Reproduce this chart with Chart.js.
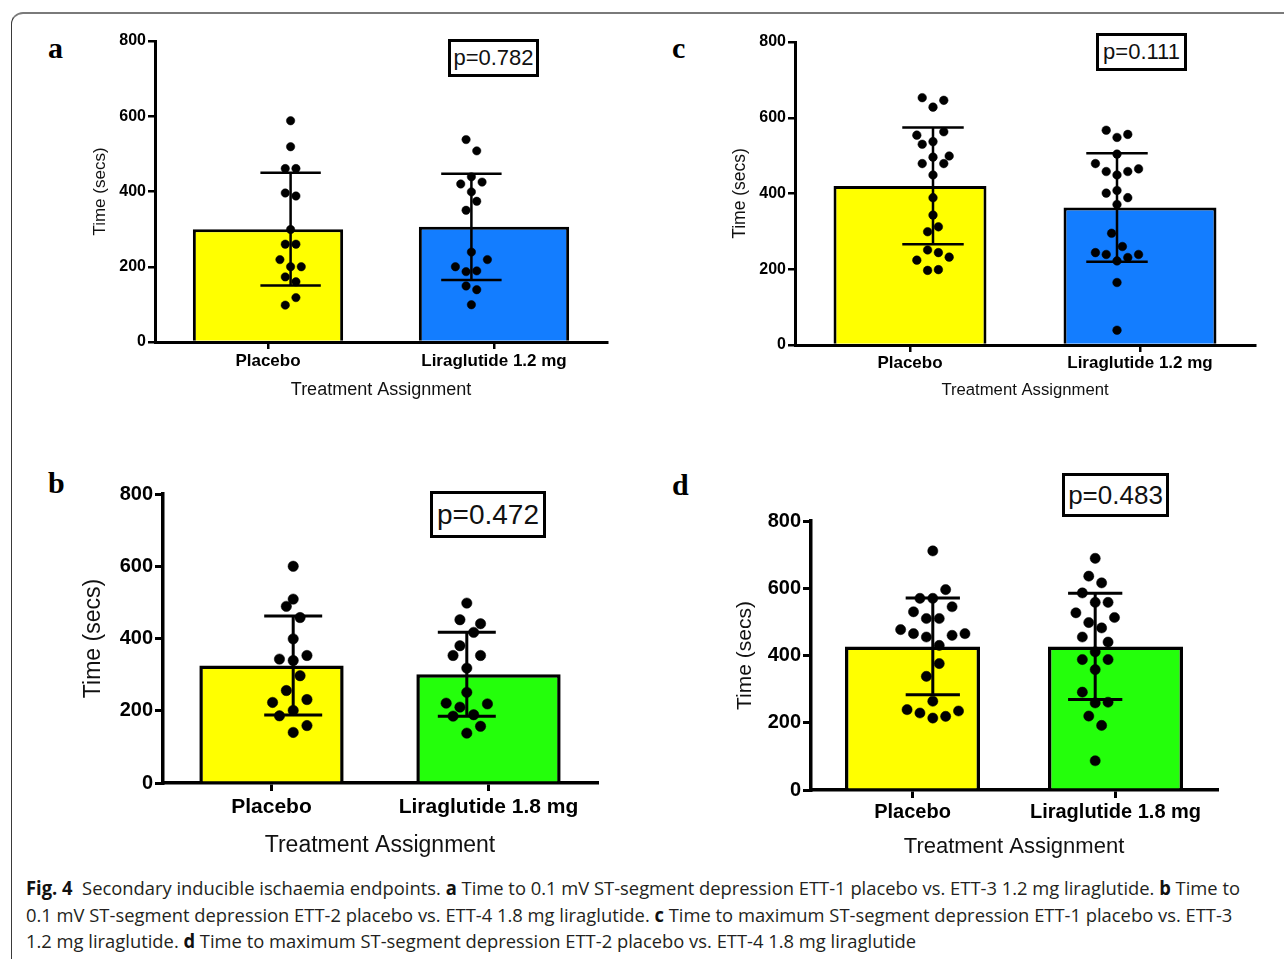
<!DOCTYPE html>
<html><head><meta charset="utf-8">
<script src="https://cdn.jsdelivr.net/npm/chart.js@4.4.1/dist/chart.umd.min.js"></script>
<style>
html,body{margin:0;padding:0;background:#fff;}
body{width:1284px;height:959px;position:relative;overflow:hidden;font-family:"Liberation Sans",Arial,sans-serif;}
.frame{position:absolute;left:11px;top:12px;width:1320px;height:1000px;border-top:2px solid #7a7a7a;border-left:1.5px solid #3a3a3a;border-top-left-radius:12px;box-sizing:border-box;}
canvas{position:absolute;}
.lbl{position:absolute;font-family:"Liberation Serif","Times New Roman",serif;font-weight:bold;font-size:30px;line-height:30px;color:#000;}
.pbox{position:absolute;box-sizing:border-box;border:3px solid #000;display:flex;align-items:center;justify-content:center;font-family:"Liberation Sans",Arial,sans-serif;color:#111;background:#fff;}
.cap{position:absolute;left:26px;white-space:nowrap;font-family:"Open Sans",sans-serif;font-size:19px;color:#231f20;transform-origin:0 50%;line-height:26px;}
.cap b{font-weight:700;color:#111;}
</style></head>
<body>
<div class="frame"></div>
<canvas id="ca"></canvas>
<canvas id="cb"></canvas>
<canvas id="cc"></canvas>
<canvas id="cd"></canvas>
<div class="lbl" style="left:48px;top:33px;">a</div>
<div class="lbl" style="left:48px;top:468px;">b</div>
<div class="lbl" style="left:672px;top:33px;">c</div>
<div class="lbl" style="left:672px;top:470px;">d</div>
<div class="pbox" style="left:448px;top:39px;width:91px;height:38px;font-size:22px;">p=0.782</div>
<div class="pbox" style="left:1096px;top:33px;width:91px;height:38px;font-size:22px;">p=0.111</div>
<div class="pbox" style="left:430px;top:491px;width:116px;height:47px;font-size:28px;border-width:3.5px;">p=0.472</div>
<div class="pbox" style="left:1062px;top:473px;width:107px;height:44px;font-size:26px;border-width:3.5px;">p=0.483</div>
<div class="cap" id="cap1" style="top:875px;"><b>Fig. 4</b>&nbsp; Secondary inducible ischaemia endpoints. <b>a</b> Time to 0.1 mV ST-segment depression ETT-1 placebo vs. ETT-3 1.2 mg liraglutide. <b>b</b> Time to</div>
<div class="cap" id="cap2" style="top:901.5px;">0.1 mV ST-segment depression ETT-2 placebo vs. ETT-4 1.8 mg liraglutide. <b>c</b> Time to maximum ST-segment depression ETT-1 placebo vs. ETT-3</div>
<div class="cap" id="cap3" style="top:928px;">1.2 mg liraglutide. <b>d</b> Time to maximum ST-segment depression ETT-2 placebo vs. ETT-4 1.8 mg liraglutide</div>
<script>
// ---------- data ----------
const categories12 = ['Placebo', 'Liraglutide 1.2 mg'];
const categories18 = ['Placebo', 'Liraglutide 1.8 mg'];
const yMin = 0, yMax = 800, yStep = 200;

// panel a
const aMean = [300, 306];
const aSD = [150, 141];
const aPlacebo = [588,519,461,461,396,388,299,260,260,219,200,200,173,160,118,98];
const aPlaceboLane = [0,0,-1,1,-1,1,0,-1,1,-2,0,2,-1,1,1,-1];
const aLira = [538,508,439,420,425,399,374,350,239,219,200,187,189,149,139,99];
const aLiraLane = [-1,1,0,-2,2,0,1,-1,0,3,-3,-1,1,-1,1,0];

// panel b
const bMean = [325, 301];
const bSD = [137, 116];
const bPlacebo = [600,509,489,458,399,343,339,353,297,256,223,231,201,186,159,140];
const bPlaceboLane = [0,0,-1,1,0,-2,0,2,1,-1,-3,2,0,-2,2,0];
const bLira = [498,452,441,417,380,353,353,318,251,221,219,210,185,189,157,138];
const bLiraLane = [0,-1,2,1,-1,-2,2,0,0,-3,3,-1,-2,1,2,0];

// panel c
const cMean = [420, 363];
const cSD = [154, 143];
const cPlacebo = [653,646,628,554,563,537,530,496,499,479,479,449,389,343,299,312,251,244,224,232,197,199];
const cPlaceboLane = [-2,2,0,-3,2,0,-2,0,3,-2,2,0,0,0,-1,1,-1,1,-3,3,-1,1];
const cLira = [567,548,556,504,479,458,449,458,465,408,401,389,371,295,260,244,239,222,231,239,165,39];
const cLiraLane = [-2,0,2,0,-4,-2,0,2,4,0,-2,2,0,-1,1,-4,-2,0,2,4,0,0];

// panel d
const dMean = [427, 427];
const dSD = [144, 158];
const dPlacebo = [711,596,570,570,545,530,510,510,477,465,465,460,455,430,376,338,264,239,229,214,219,235];
const dPlaceboLane = [0,2,-2,0,3,-3,-1,1,-5,5,-3,3,-1,1,1,-1,0,-4,-2,0,2,4];
const dLira = [689,636,616,586,558,558,527,513,498,482,455,440,411,388,388,358,291,259,261,220,192,87];
const dLiraLane = [0,-1,1,-2,0,2,-3,3,-1,1,-2,2,0,-2,2,0,-2,0,2,-1,1,0];

// ---------- styles ----------
const YELLOW = '#FFFF00', BLUE = '#137DFF', GREEN = '#24FF0B';
const FONT = "'Liberation Sans', Arial, sans-serif";

function swarm(values, lanes, cat, unit) {
  return values.map((v, i) => ({x: cat + lanes[i] * unit, y: v}));
}
function errPath(cat, mean, sd, half) {
  const hi = mean + sd, lo = mean - sd;
  return [
    {x: cat - half, y: hi}, {x: cat + half, y: hi}, {x: cat, y: null},
    {x: cat, y: hi}, {x: cat, y: lo}, {x: cat, y: null},
    {x: cat - half, y: lo}, {x: cat + half, y: lo}
  ];
}

function makePanel(id, s) {
  const cv = document.getElementById(id);
  cv.width = s.canvas.w; cv.height = s.canvas.h;
  cv.style.left = s.canvas.x + 'px'; cv.style.top = s.canvas.y + 'px';
  const a = s.area;
  const padTop = a.top - s.canvas.y;
  const padRight = s.canvas.x + s.canvas.w - a.right;
  const yW = a.left - s.canvas.x;
  const xH = s.canvas.y + s.canvas.h - a.bottom;
  const half = 0.167;
  const datasets = [
    {type: 'bar', data: s.mean, backgroundColor: s.colors, borderColor: '#000',
     borderWidth: s.barBorder, borderSkipped: 'start', barPercentage: 0.665,
     categoryPercentage: 1, grouped: false, order: 5, xAxisID: 'x', yAxisID: 'y'}
  ];
  [0, 1].forEach(i => datasets.push({
    type: 'scatter', data: errPath(i, s.mean[i], s.sd[i], half), showLine: true,
    spanGaps: false, pointRadius: 0, borderColor: '#000', borderWidth: s.errW,
    borderCapStyle: 'butt', fill: false, order: 3, xAxisID: 'x2', yAxisID: 'y'
  }));
  s.groups.forEach((g, i) => datasets.push({
    type: 'scatter', data: swarm(g.values, g.lanes, i, s.laneUnit),
    pointRadius: s.dotR, pointBackgroundColor: '#000', pointBorderColor: '#000',
    pointBorderWidth: 0.5, order: 1, xAxisID: 'x2', yAxisID: 'y'
  }));
  return new Chart(cv, {
    type: 'bar',
    data: {labels: s.cats, datasets},
    options: {
      responsive: false, animation: false, devicePixelRatio: 1,
      layout: {padding: {top: padTop, right: padRight, left: 0, bottom: 0}},
      plugins: {legend: {display: false}, tooltip: {enabled: false}},
      scales: {
        x: {
          type: 'category', offset: true, position: 'bottom',
          grid: {display: true, drawOnChartArea: false, drawTicks: true, offset: false,
                 tickLength: s.xTick, tickWidth: s.tickW, tickColor: '#000', color: '#000', lineWidth: s.tickW},
          border: {display: true, color: '#000', width: s.axisW},
          ticks: {color: '#000', font: {family: FONT, size: s.catFont, weight: 'bold'},
                  padding: s.xPad, maxRotation: 0, autoSkip: false},
          title: {display: true, text: 'Treatment Assignment', color: '#111',
                  font: {family: FONT, size: s.xTitleFont}, padding: {top: 0, bottom: s.xTitlePad}},
          afterFit: sc => { sc.height = xH; }
        },
        x2: {type: 'linear', min: -0.5, max: 1.5, display: false, position: 'bottom'},
        y: {
          type: 'linear', min: yMin, max: yMax, position: 'left',
          grid: {display: true, drawOnChartArea: false, drawTicks: true,
                 tickLength: s.yTick, tickWidth: s.tickW, tickColor: '#000', color: '#000', lineWidth: s.tickW},
          border: {display: true, color: '#000', width: s.axisW},
          ticks: {stepSize: yStep, color: '#000', font: {family: FONT, size: s.tickFont, weight: 'bold'}, padding: s.yPad},
          title: {display: true, text: 'Time (secs)', color: '#111',
                  font: {family: FONT, size: s.yTitleFont}, padding: {top: s.yTitlePad, bottom: 0}},
          afterFit: sc => { sc.width = yW; }
        }
      }
    }
  });
}

makePanel('ca', {
  canvas: {x: 70, y: 20, w: 560, h: 395}, area: {left: 155, top: 41, right: 607, bottom: 342},
  cats: categories12, mean: aMean, sd: aSD, colors: [YELLOW, BLUE],
  groups: [{values: aPlacebo, lanes: aPlaceboLane}, {values: aLira, lanes: aLiraLane}],
  laneUnit: 0.0295, dotR: 4.2, barBorder: 3, errW: 2.5, axisW: 3, tickW: 2.5,
  xTick: 7, yTick: 7, xPad: 2, yPad: 2, tickFont: 16, catFont: 17, xTitleFont: 18, yTitleFont: 17,
  xTitlePad: 14, yTitlePad: 20
});
makePanel('cc', {
  canvas: {x: 710, y: 20, w: 574, h: 395}, area: {left: 795, top: 42, right: 1255, bottom: 345},
  cats: categories12, mean: cMean, sd: cSD, colors: [YELLOW, BLUE],
  groups: [{values: cPlacebo, lanes: cPlaceboLane}, {values: cLira, lanes: cLiraLane}],
  laneUnit: 0.0293, dotR: 4.3, barBorder: 3, errW: 2.5, axisW: 3, tickW: 2.5,
  xTick: 7, yTick: 7, xPad: 1, yPad: 2, tickFont: 16, catFont: 17, xTitleFont: 16.7, yTitleFont: 17.5,
  xTitlePad: 15, yTitlePad: 20
});
makePanel('cb', {
  canvas: {x: 70, y: 470, w: 560, h: 395}, area: {left: 163, top: 494, right: 597, bottom: 783},
  cats: categories18, mean: bMean, sd: bSD, colors: [YELLOW, GREEN],
  groups: [{values: bPlacebo, lanes: bPlaceboLane}, {values: bLira, lanes: bLiraLane}],
  laneUnit: 0.0396, dotR: 5.2, barBorder: 3.5, errW: 3, axisW: 3.5, tickW: 3,
  xTick: 8, yTick: 8, xPad: 4, yPad: 2, tickFont: 20, catFont: 21, xTitleFont: 23, yTitleFont: 23,
  xTitlePad: 6, yTitlePad: 10
});
makePanel('cd', {
  canvas: {x: 710, y: 470, w: 540, h: 395}, area: {left: 811, top: 521, right: 1217, bottom: 790},
  cats: categories18, mean: dMean, sd: dSD, colors: [YELLOW, GREEN],
  groups: [{values: dPlacebo, lanes: dPlaceboLane}, {values: dLira, lanes: dLiraLane}],
  laneUnit: 0.0396, dotR: 5.1, barBorder: 3.5, errW: 3, axisW: 3.5, tickW: 3,
  xTick: 8, yTick: 8, xPad: 2, yPad: 2, tickFont: 20, catFont: 20, xTitleFont: 22, yTitleFont: 21,
  xTitlePad: 5, yTitlePad: 23
});

function fitCaption() {
  const l1 = document.getElementById('cap1');
  ['cap1','cap2','cap3'].forEach(id => document.getElementById(id).style.transform = 'none');
  const w = l1.getBoundingClientRect().width;
  const k = 1214 / w;
  ['cap1','cap2','cap3'].forEach(id => document.getElementById(id).style.transform = 'scaleX(' + k + ')');
}
fitCaption();
if (document.fonts && document.fonts.ready) document.fonts.ready.then(fitCaption);
</script>
</body></html>
